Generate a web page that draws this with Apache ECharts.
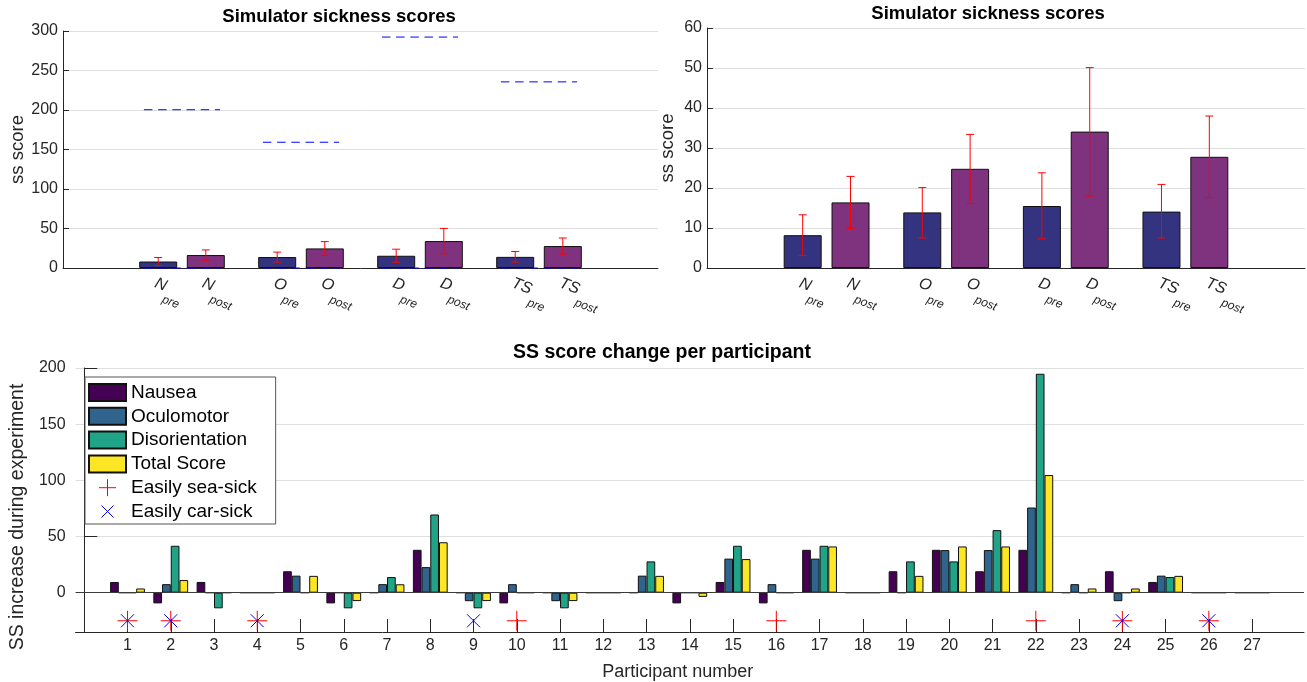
<!DOCTYPE html>
<html><head><meta charset="utf-8">
<script src="https://cdn.jsdelivr.net/npm/echarts@6/dist/echarts.min.js"></script>
<style>html,body{margin:0;padding:0;background:#fff}#c{width:1307px;height:682px}</style>
</head><body><div id="c"></div>
<script>
// ---------- data: top charts (simulator sickness scores) ----------
const groupNames = ['N', 'O', 'D', 'TS'];
const groupPos = [1, 2, 3, 4];
const preMean  = [8.2, 13.9, 15.5, 14.1];
const preLow   = [3.1, 7.5, 7.3, 7.5];
const preHigh  = [13.3, 20.1, 23.8, 20.9];
const postMean = [16.4, 24.8, 34.1, 27.8];
const postLow  = [9.9, 16.1, 18.0, 17.6];
const postHigh = [22.9, 33.4, 50.1, 38.0];
const maxScore = [200.34, 159.18, 292.32, 235.62];
const minScore = [0, 0, 0, 0];
const subPre = 'pre', subPost = 'post';

// ---------- data: bottom chart (SS score change per participant) ----------
const participants = [1,2,3,4,5,6,7,8,9,10,11,12,13,14,15,16,17,18,19,20,21,22,23,24,25,26,27];
const nausea = [9.54,-9.54,9.54,0,19.08,-9.54,0,38.16,0,-9.54,0,0,0,-9.54,9.54,-9.54,38.16,0,19.08,38.16,19.08,38.16,0,19.08,9.54,0,0];
const oculomotor = [0,7.58,0,0,15.16,0,7.58,22.74,-7.58,7.58,-7.58,0,15.16,0,30.32,7.58,30.32,0,0,37.9,37.9,75.8,7.58,-7.58,15.16,0,0];
const disorientation = [0,41.76,-13.92,0,0,-13.92,13.92,69.6,-13.92,0,-13.92,0,27.84,0,41.76,0,41.76,0,27.84,27.84,55.68,194.88,0,0,13.92,0,0];
const totalScore = [3.74,11.22,0,0,14.96,-7.48,7.48,44.88,-7.48,0,-7.48,0,14.96,-3.74,29.92,0,41.14,0,14.96,41.14,41.14,104.72,3.74,3.74,14.96,0,0];
const seaSick = [1, 2, 4, 10, 16, 22, 24, 26];
const carSick = [1, 2, 4, 9, 24, 26];
const markerLevel = -25;
const bottomTicks = [0, 50, 100, 150, 200];

// ---------- styling ----------
const FONT = '"Liberation Sans", Arial, Helvetica, sans-serif';
const AX = '#262626';
const GRID = '#dfdfdf';
const preColor = '#333380', postColor = '#7f327d';
const ssColors = ['#440154', '#31648c', '#20a386', '#fde725'];

const preX = groupPos.map(g => g - 0.2);
const postX = groupPos.map(g => g + 0.2);
const labelPos = [], labelMain = [], labelSub = [];
groupPos.forEach((g, i) => {
  labelPos.push(g - 0.2, g + 0.2);
  labelMain.push(groupNames[i], groupNames[i]);
  labelSub.push(subPre, subPost);
});

function errRender(params, api) {
  const x = api.value(0), lo = api.value(1), hi = api.value(2);
  const a = api.coord([x, lo]), b = api.coord([x, hi]);
  const w = 4, st = {stroke: '#ff0000', lineWidth: 1};
  return {type: 'group', children: [
    {type: 'line', shape: {x1: a[0], y1: a[1], x2: b[0], y2: b[1]}, style: st},
    {type: 'line', shape: {x1: b[0] - w, y1: b[1], x2: b[0] + w, y2: b[1]}, style: st},
    {type: 'line', shape: {x1: a[0] - w, y1: a[1], x2: a[0] + w, y2: a[1]}, style: st}
  ]};
}
function dashRender(params, api) {
  const g = api.value(0), v = api.value(1);
  const a = api.coord([g - 0.32, v]), b = api.coord([g + 0.32, v]);
  return {type: 'line', shape: {x1: a[0], y1: a[1], x2: b[0], y2: b[1]},
    style: {stroke: '#0000ff', lineWidth: 1, lineDash: [8.5, 5.7]}};
}

function topX(gi) {
  return {
    type: 'value', gridIndex: gi, min: 0, max: 5,
    axisLine: {show: true, onZero: false, lineStyle: {color: AX, width: 1}},
    axisTick: {show: false},
    splitLine: {show: false},
    axisLabel: {
      customValues: labelPos, rotate: -21, margin: 7, color: AX,
      align: 'left', verticalAlign: 'top',
      formatter: function (v) {
        const i = labelPos.findIndex(p => Math.abs(p - v) < 1e-6);
        if (i < 0) return '';
        return '{n|' + labelMain[i] + '}{s|' + labelSub[i] + '}';
      },
      rich: {
        n: {fontSize: 16, fontStyle: 'italic', fontFamily: FONT, color: AX, verticalAlign: 'top', lineHeight: 18},
        s: {fontSize: 12, fontStyle: 'italic', fontFamily: FONT, color: AX, verticalAlign: 'top', lineHeight: 14, padding: [15, 0, 0, 1]}
      }
    }
  };
}
function topY(gi, max, interval, gap) {
  return {
    type: 'value', gridIndex: gi, min: 0, max: max, interval: interval,
    name: 'ss score', nameLocation: 'middle', nameGap: gap,
    nameTextStyle: {fontSize: 18.5, color: AX, fontFamily: FONT},
    axisLine: {show: true, lineStyle: {color: AX, width: 1}},
    axisTick: {show: true, inside: true, length: 6, lineStyle: {color: AX}},
    axisLabel: {fontSize: 16, color: AX, margin: 5, fontFamily: FONT},
    splitLine: {show: true, lineStyle: {color: GRID, width: 1}}
  };
}
function topSeries(gi, withMax) {
  const s = [
    {type: 'bar', xAxisIndex: gi, yAxisIndex: gi, barWidth: 38, barGap: '-100%',
      data: preX.map((x, i) => [x, preMean[i]]),
      itemStyle: {color: preColor, borderColor: '#111', borderWidth: 1}, z: 2},
    {type: 'bar', xAxisIndex: gi, yAxisIndex: gi, barWidth: 38, barGap: '-100%',
      data: postX.map((x, i) => [x, postMean[i]]),
      itemStyle: {color: postColor, borderColor: '#111', borderWidth: 1}, z: 2},
    {type: 'custom', xAxisIndex: gi, yAxisIndex: gi, renderItem: errRender, z: 5,
      encode: {x: 0, y: [1, 2]},
      data: preX.map((x, i) => [x, preLow[i], preHigh[i]]).concat(postX.map((x, i) => [x, postLow[i], postHigh[i]]))}
  ];
  if (withMax) {
    s.push({type: 'custom', xAxisIndex: gi, yAxisIndex: gi, renderItem: dashRender, z: 1,
      encode: {x: 0, y: 1},
      data: groupPos.map((g, i) => [g, maxScore[i]]).concat(groupPos.map((g, i) => [g, minScore[i]]))});
  }
  return s;
}

const plusPath = 'path://M0,-10L0,10M-10,0L10,0';
const crossPath = 'path://M-6.5,-6.5L6.5,6.5M6.5,-6.5L-6.5,6.5';
const plusIcon = 'path://M0,-9L0,9M-9,0L9,0';
const crossIcon = 'path://M-6,-6L6,6M6,-6L-6,6M-8.5,-8.5L-8.5,-8.5M8.5,8.5L8.5,8.5';
const ssNames = ['Nausea', 'Oculomotor', 'Disorientation', 'Total Score'];
const ssData = [nausea, oculomotor, disorientation, totalScore];

const bottomBars = ssData.map((arr, k) => {
  const s = {
    type: 'bar', name: ssNames[k], xAxisIndex: 2, yAxisIndex: 2,
    barWidth: 8.7, barGap: '0%',
    data: participants.map((p, i) => [p, arr[i]]),
    itemStyle: {color: ssColors[k], borderColor: '#111', borderWidth: 1}, z: 2
  };
  if (k === 0) {
    s.markLine = {silent: true, symbol: 'none', animation: false, label: {show: false},
      lineStyle: {color: '#3a3a3a', width: 1, type: 'solid'}, data: [{yAxis: 0}]};
  }
  return s;
});

const option = {
  animation: false,
  textStyle: {fontFamily: FONT},
  grid: [
    {left: 63, top: 31, width: 595, height: 237},
    {left: 707, top: 28, width: 598, height: 240},
    {left: 74, top: 368, width: 1230, height: 265}
  ],
  xAxis: [
    topX(0), topX(1),
    {
      type: 'value', gridIndex: 2, min: -0.2, max: 28.2,
      name: 'Participant number', nameLocation: 'middle', nameGap: 31,
      nameTextStyle: {fontSize: 18, color: AX, fontFamily: FONT, padding: [0, 24, 0, 0]},
      axisLine: {show: true, onZero: false, lineStyle: {color: AX, width: 1}},
      axisTick: {show: true, inside: true, length: 13, customValues: participants, lineStyle: {color: AX}},
      axisLabel: {customValues: participants, fontSize: 16, color: AX, margin: 6, fontFamily: FONT},
      splitLine: {show: false}
    }
  ],
  yAxis: [
    topY(0, 300, 50, 35),
    topY(1, 60, 10, 30),
    {
      type: 'value', gridIndex: 2, min: -35, max: 200,
      name: 'SS increase during experiment', nameLocation: 'middle', nameGap: 42,
      nameTextStyle: {fontSize: 19.5, color: AX, fontFamily: FONT, padding: [0, 34, 0, 0]},
      axisLine: {show: true, lineStyle: {color: AX, width: 1}},
      axisTick: {show: true, inside: true, length: 13, customValues: bottomTicks, lineStyle: {color: AX}},
      axisLabel: {customValues: bottomTicks, fontSize: 16, color: AX, margin: 10, fontFamily: FONT},
      splitLine: {show: true, lineStyle: {color: GRID, width: 1}}
    }
  ],
  legend: {
    orient: 'vertical', left: 85, top: 377,
    itemWidth: 37, itemHeight: 17, itemGap: 4.8,
    padding: [6, 19, 3, 3],
    backgroundColor: '#fff', borderColor: '#555', borderWidth: 1,
    textStyle: {fontSize: 19, color: '#000', fontFamily: FONT, lineHeight: 17},
    data: [
      {name: 'Nausea', icon: 'rect'},
      {name: 'Oculomotor', icon: 'rect'},
      {name: 'Disorientation', icon: 'rect'},
      {name: 'Total Score', icon: 'rect'},
      {name: 'Easily sea-sick', icon: plusIcon, itemStyle: {color: '#ff0000', borderColor: '#ff0000', borderWidth: 1}},
      {name: 'Easily car-sick', icon: crossIcon, itemStyle: {color: '#0000ff', borderColor: '#0000ff', borderWidth: 1}}
    ]
  },
  graphic: [
    {type: 'text', x: 339, y: 17, style: {text: 'Simulator sickness scores', font: 'bold 18.5px ' + FONT, align: 'center', verticalAlign: 'middle', fill: '#000'}},
    {type: 'text', x: 988, y: 14, style: {text: 'Simulator sickness scores', font: 'bold 18.5px ' + FONT, align: 'center', verticalAlign: 'middle', fill: '#000'}},
    {type: 'text', x: 662, y: 353, style: {text: 'SS score change per participant', font: 'bold 19.5px ' + FONT, align: 'center', verticalAlign: 'middle', fill: '#000'}}
  ],
  series: [].concat(
    topSeries(0, true),
    topSeries(1, false),
    bottomBars,
    [
      {type: 'scatter', name: 'Easily sea-sick', xAxisIndex: 2, yAxisIndex: 2, symbol: plusPath, symbolSize: 20,
        data: seaSick.map(p => [p, markerLevel]),
        itemStyle: {color: '#ff0000', borderColor: '#ff0000', borderWidth: 1, opacity: 1}, z: 4},
      {type: 'scatter', name: 'Easily car-sick', xAxisIndex: 2, yAxisIndex: 2, symbol: crossPath, symbolSize: 13,
        data: carSick.map(p => [p, markerLevel]),
        itemStyle: {color: '#0000ff', borderColor: '#0000ff', borderWidth: 1, opacity: 1}, z: 5}
    ]
  )
};

const chart = echarts.init(document.getElementById('c'), null, {renderer: 'canvas'});
chart.setOption(option);
</script>
</body></html>
